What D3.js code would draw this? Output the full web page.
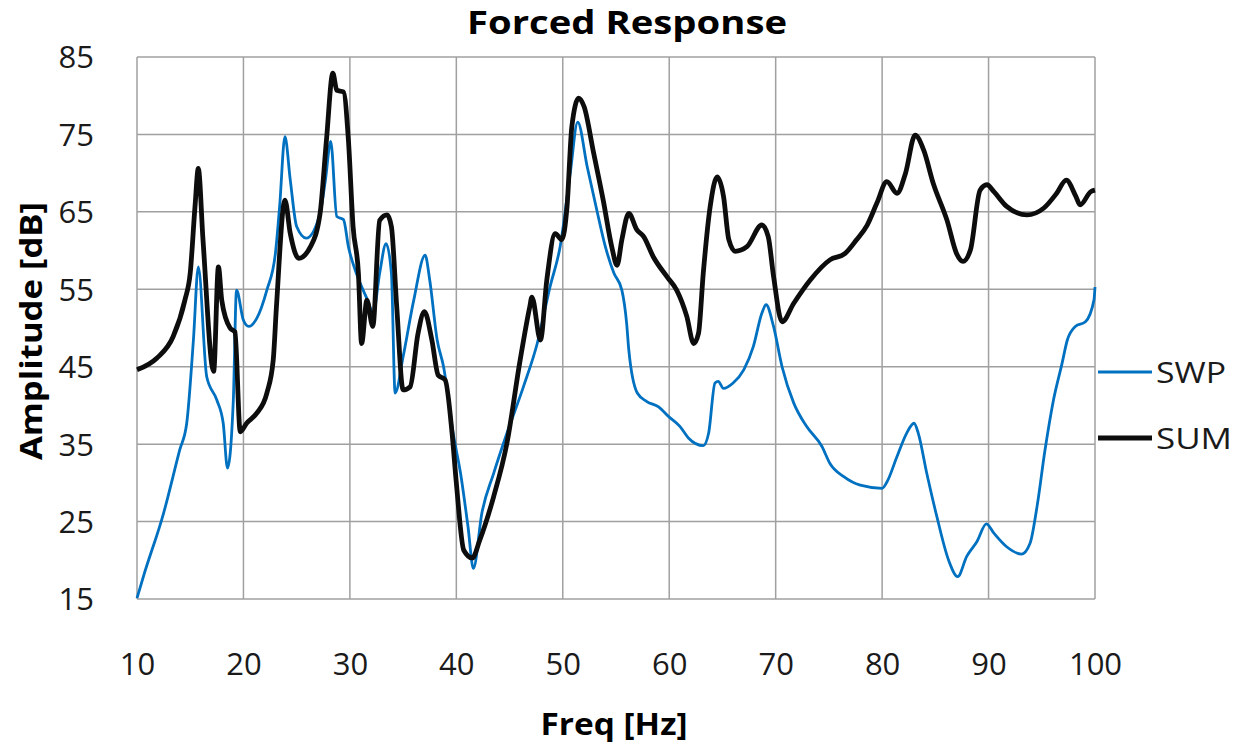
<!DOCTYPE html>
<html lang="en">
    <head>
        <meta charset="UTF-8">
        <title>Forced Response</title>
        <style>
            html, body {
                margin: 0;
                padding: 0;
                background: #ffffff;
            }
            * {
                font-family: "Open Sans", Arial, sans-serif;
            }
            .grid line {
                stroke: #a0a0a0;
                stroke-width: 1.5;
            }
            .tick text {
                fill: #1a1a1a;
            }
        </style>
        <script src="https://cdn.jsdelivr.net/npm/d3@7"></script>
    </head>
    <body>
        <svg id="chart" width="1244" height="749"></svg>
    <script>
        // values
        const xTicks = [10, 20, 30, 40, 50, 60, 70, 80, 90, 100];
        const yTicks = [15, 25, 35, 45, 55, 65, 75, 85];

        const swpFreq = [10, 10.6, 12.5, 14.0, 14.67, 15.3, 15.76, 16.55, 17.5, 18.1, 18.5, 19.05, 19.35, 20.0, 20.5,
            21.25, 22.2, 23.0, 23.4, 23.9, 24.4, 25.0, 25.9, 27.2, 27.7, 28.2, 28.77, 29.4, 29.86, 30.6,
            31.6, 32.2, 32.8, 33.4, 33.9, 34.25, 35.0, 36.0, 37.07, 37.5, 38.2, 38.8, 39.7, 40.4, 41.1,
            41.6, 42.4, 43.5, 44.75, 46.3, 47.6, 48.8, 49.75, 50.7, 51.4, 52.3, 53.2, 54.0, 54.8, 55.55,
            56.0, 56.2, 57.0, 57.9, 59.0, 59.95, 61.0, 61.8, 63.2, 63.7, 64.3, 64.6, 65.1, 66.0, 67.0,
            67.9, 68.7, 69.1, 69.8, 70.6, 71.7, 72.9, 74.35, 75.1, 76.4, 77.95, 80.0, 80.45, 81.4, 82.3,
            83.0, 83.4, 84.2, 85.15, 86.25, 87.1, 87.95, 88.9, 89.8, 90.5, 91.7, 93.1, 93.9, 94.55, 95.3,
            96.1, 96.9, 97.4, 98.15, 99.1, 99.9, 100];
        const swpDb = [15.1, 17.9, 26.1, 34.2, 37.7, 48.45, 57.9, 43.7, 40.7, 37.7, 31.9, 40.7, 54.9, 51.0, 50.2,
            51.25, 54.9, 59.6, 65.7, 74.7, 69.1, 63.1, 61.6, 64.8, 69.1, 74.1, 64.4, 64, 60.5, 57.1,
            53.8, 52, 57.1, 60.9, 57.1, 41.6, 46.3, 53.6, 59.4, 56.2, 48.45, 45, 36.4, 31.2, 24.3,
            18.95, 26.1, 31.2, 36.4, 42.4, 48, 55.3, 60.5, 70.0, 76.6, 70.8, 65.2, 60.5, 57.1, 54.9,
            50.6, 47.2, 41.6, 40.5, 39.8, 38.55, 37.3, 35.8, 34.8, 36.4, 42.9, 43.1, 42.2, 42.9, 44.6,
            47.6, 51.9, 53, 50.2, 45, 40.3, 37.3, 34.7, 32.5, 30.8, 29.7, 29.3, 30.1, 33.4, 36.4,
            37.7, 36.4, 31.2, 25.6, 20.0, 17.9, 20.5, 22.4, 24.7, 23.5, 21.75, 20.8, 22.2, 26.9, 34.2,
            40.7, 45.4, 48.45, 50.2, 50.8, 53.6, 55.3];

        const sumFreq = [10, 11.85, 13.4, 14.5, 15.0, 15.45, 15.76, 16.2, 17.2, 17.65, 17.96, 18.74, 19.2, 19.7, 20.3,
            21.25, 22.2, 22.8, 23.1, 23.9, 24.4, 25.2, 26.3, 27.2, 27.8, 28.4, 28.77, 29.4, 29.86, 30.3,
            30.8, 31.1, 31.6, 32.15, 32.8, 33.5, 33.9, 34.4, 35.0, 35.66, 36.4, 37.0, 37.7, 38.3, 38.95,
            39.6, 40.0, 40.7, 41.5, 42.2, 43.5, 44.75, 46.0, 46.9, 47.1, 47.9, 48.5, 49.3, 49.9, 50.4,
            50.85, 51.5, 52.0, 52.9, 53.8, 54.6, 55.1, 55.55, 56.2, 56.95, 57.6, 58.5, 59.8, 60.7, 61.65,
            62.3, 62.75, 63.2, 63.85, 64.5, 65.1, 65.6, 66.2, 67.3, 68.7, 69.3, 69.8, 70.6, 71.7, 73.25,
            75.1, 76.5, 77.6, 78.6, 79.5, 80.45, 81.4, 82.2, 83.1, 83.9, 84.8, 86.1, 87.0, 87.6, 88.3,
            89.2, 89.85, 90.5, 91.7, 93.6, 95.2, 96.4, 97.3, 98.2, 98.6, 99.6, 100];
        const sumDb = [44.6, 46.1, 48.9, 53.6, 57.1, 65.7, 70.6, 61.4, 44.4, 57.9, 53.6, 50, 49.5, 36.6, 37.7,
            39, 41.6, 45.9, 52.75, 66.5, 62.2, 59, 60.5, 64.8, 74.3, 82.9, 80.7, 80.5, 74.3, 63.1,
            57.1, 48, 53.6, 50.2, 63.9, 64.6, 63.1, 52.75, 42, 42.4, 49.3, 52.1, 48.45, 43.9, 43.3,
            36.4, 30, 21.3, 20.3, 22.6, 28.2, 35.1, 45.9, 52.75, 54.0, 48.45, 56.2, 62.2, 61.4, 65.7,
            76.0, 79.7, 78.6, 72.6, 66.5, 60.5, 58.1, 61.4, 64.8, 62.7, 61.8, 59.2, 56.6, 54.9, 51.5,
            48, 49.3, 57.1, 65.7, 69.5, 67, 61.4, 59.9, 60.5, 63.3, 61.8, 56.7, 50.8, 53.2, 56.2,
            58.8, 59.6, 61.4, 63.3, 66.1, 68.9, 67.4, 70.0, 74.9, 73.0, 68.7, 63.9, 59.6, 58.6, 60.1,
            67.8, 68.5, 67.6, 65.7, 64.6, 65.5, 67.4, 69.1, 67, 65.9, 67.6, 67.8];

        const seriesNames = ["SWP", "SUM"];
        const seriesColors = ["#0070c0", "#0d0d0d"];
        const seriesWidths = [2.8, 4.8];
        const legendTextWidths = [70, 76];

        const svg = d3.select("#chart");
        const plotLeft = 137, plotRight = 1095, plotTop = 57, plotBottom = 599;

        const x = d3.scaleLinear().domain([10, 100]).range([plotLeft, plotRight]);
        const y = d3.scaleLinear().domain([15, 85]).range([plotBottom, plotTop]);

        // grid
        const grid = svg.append("g").attr("class", "grid");
        grid.selectAll("line.v")
            .data(xTicks)
            .join("line")
            .attr("class", "v")
            .attr("x1", d => x(d)).attr("x2", d => x(d))
            .attr("y1", plotTop).attr("y2", plotBottom);
        grid.selectAll("line.h")
            .data(yTicks)
            .join("line")
            .attr("class", "h")
            .attr("x1", plotLeft).attr("x2", plotRight)
            .attr("y1", d => y(d)).attr("y2", d => y(d));

        // axes (labels only)
        const xAxis = svg.append("g")
            .attr("transform", `translate(0, ${plotBottom})`)
            .call(d3.axisBottom(x).tickValues(xTicks).tickSize(0).tickPadding(54));
        const yAxis = svg.append("g")
            .attr("transform", `translate(${plotLeft}, 0)`)
            .call(d3.axisLeft(y).tickValues(yTicks).tickSize(0).tickPadding(43));
        [xAxis, yAxis].forEach(a => {
            a.select(".domain").remove();
            a.selectAll("text").attr("font-size", 31);
        });
        yAxis.selectAll("text").attr("dy", "0.35em");

        // lines
        const line = d3.line()
            .x(d => x(d[0]))
            .y(d => y(d[1]))
            .curve(d3.curveMonotoneX);

        const swpPoints = swpFreq.map((f, i) => [f, swpDb[i]]);
        const sumPoints = sumFreq.map((f, i) => [f, sumDb[i]]);

        [swpPoints, sumPoints].forEach((pts, i) => {
            svg.append("path")
                .datum(pts)
                .attr("d", line)
                .attr("fill", "none")
                .attr("stroke", seriesColors[i])
                .attr("stroke-width", seriesWidths[i])
                .attr("stroke-linejoin", "round");
        });

        // titles
        svg.append("text")
            .attr("x", 627).attr("y", 34)
            .attr("text-anchor", "middle")
            .attr("font-size", 32)
            .attr("font-weight", "bold")
            .attr("textLength", 320)
            .attr("lengthAdjust", "spacingAndGlyphs")
            .text("Forced Response");

        svg.append("text")
            .attr("x", 614).attr("y", 735)
            .attr("text-anchor", "middle")
            .attr("font-size", 31)
            .attr("font-weight", "bold")
            .attr("textLength", 147)
            .attr("lengthAdjust", "spacingAndGlyphs")
            .text("Freq [Hz]");

        svg.append("text")
            .attr("transform", "translate(42, 331) rotate(-90)")
            .attr("text-anchor", "middle")
            .attr("font-size", 31)
            .attr("font-weight", "bold")
            .attr("textLength", 258)
            .attr("lengthAdjust", "spacingAndGlyphs")
            .text("Amplitude  [dB]");

        // legend
        const legend = svg.append("g").selectAll("g")
            .data(seriesNames)
            .join("g")
            .attr("transform", (d, i) => `translate(1098, ${372 + i * 66})`);
        legend.append("line")
            .attr("x1", 0).attr("x2", 54)
            .attr("stroke", (d, i) => seriesColors[i])
            .attr("stroke-width", (d, i) => seriesWidths[i]);
        legend.append("text")
            .attr("x", 58).attr("dy", "0.36em")
            .attr("font-size", 30)
            .attr("fill", "#1a1a1a")
            .attr("textLength", (d, i) => legendTextWidths[i])
            .attr("lengthAdjust", "spacingAndGlyphs")
            .text(d => d);
    </script>
    </body>
</html>
